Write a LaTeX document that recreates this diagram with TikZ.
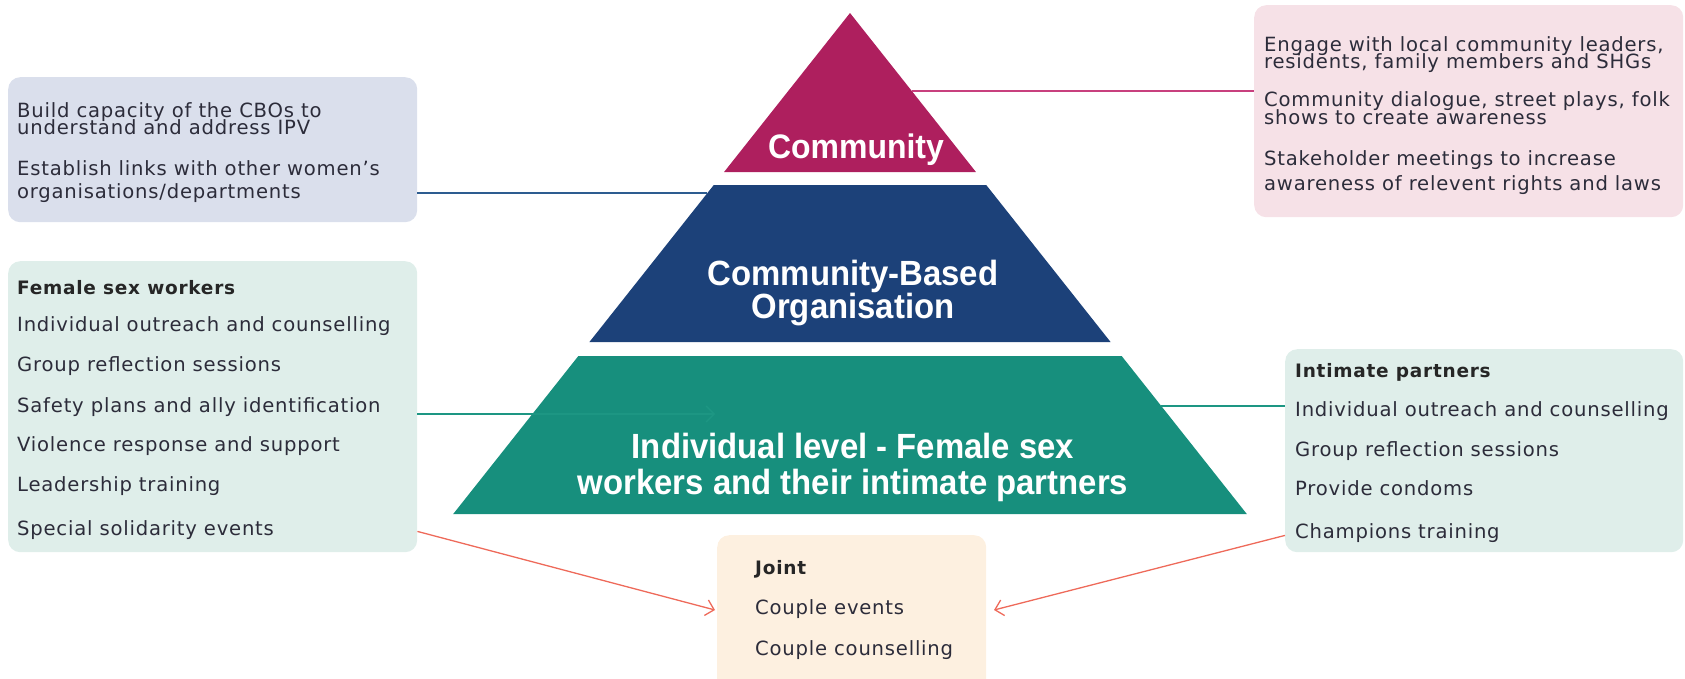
\documentclass[tikz,border=0pt]{standalone}
\usepackage{fontspec}
\usetikzlibrary{arrows.meta}
\newfontfamily\boxfont{DejaVu Sans}[LetterSpace=4]
\newfontfamily\pyrfont{Liberation Sans}[FakeStretch=0.94]

\definecolor{commag}{HTML}{AE1F5E}
\definecolor{cbonavy}{HTML}{1C4179}
\definecolor{indteal}{HTML}{178F7D}
\definecolor{lavbox}{HTML}{DADFEC}
\definecolor{pinkbox}{HTML}{F6E1E7}
\definecolor{mintbox}{HTML}{DFEEEA}
\definecolor{peachbox}{HTML}{FDF0E0}
\definecolor{txtgray}{HTML}{2C2C3A}
\definecolor{lnpink}{HTML}{C8407E}
\definecolor{lnblue}{HTML}{2D5C90}
\definecolor{lnteal}{HTML}{1D9683}
\definecolor{lnred}{HTML}{EE6A5A}

\begin{document}
\begin{tikzpicture}[x=1pt,y=-1pt,
  panel/.style={rounded corners=12pt, anchor=north west, inner sep=0pt, draw=none},
  txt/.style={font=\boxfont\fontsize{19.6}{19.6}\selectfont, text=txtgray, inner sep=0pt, anchor=base west},
  hdr/.style={txt, font=\boxfont\bfseries\fontsize{18.5}{18.5}\selectfont, text=black!85},
  pyr/.style={font=\pyrfont\bfseries\fontsize{35}{31}\selectfont, text=white, inner sep=0pt, align=center},
  link/.style={line width=1.3pt},
  tip/.style={-{Straight Barb[length=8pt,width=16pt,line width=1.3pt]}}
]
\clip (0,0) rectangle (1685,678);

% ---------- pyramid ----------
\coordinate (apex) at (850,13);
\def\sl{0.792}
\fill[commag] (apex) -- ({850-\sl*159},172) -- ({850+\sl*159},172) -- cycle;
\fill[cbonavy] ({850-\sl*172},185) -- ({850+\sl*172},185) -- ({850+\sl*329},342) -- ({850-\sl*329},342) -- cycle;
\fill[indteal] ({850-\sl*343},356) -- ({850+\sl*343},356) -- ({850+\sl*501},514) -- ({850-\sl*501},514) -- cycle;

\node[pyr, anchor=base, font=\pyrfont\bfseries\fontsize{34}{31}\selectfont] (comlabel) at (856,158) {Community};
\node[pyr] (cbolabel) at (853,293) {Community-Based\\Organisation};
\node[pyr, font=\pyrfont\bfseries\fontsize{35}{36}\selectfont] (indlabel) at (853,467) {Individual level - Female sex\\workers and their intimate partners};

% ---------- panels ----------
\node[panel, fill=lavbox, minimum width=409pt, minimum height=145pt] (cbobox) at (8,77) {};
\node[panel, fill=pinkbox, minimum width=429pt, minimum height=212pt] (combox) at (1254,5) {};
\node[panel, fill=mintbox, minimum width=409pt, minimum height=291pt] (fswbox) at (8,261) {};
\node[panel, fill=mintbox, minimum width=398pt, minimum height=203pt] (ipbox) at (1285,349) {};
\node[panel, fill=peachbox, minimum width=269pt, minimum height=160pt] (jbox) at (717,535) {};

% CBO actions
\node[txt] (c1) at (17,117) {Build capacity of the CBOs to};
\node[txt] (c2) at (17,134) {understand and address IPV};
\node[txt] (c3) at (17,175) {Establish links with other women’s};
\node[txt] (c4) at (17,198) {organisations/departments};

% community actions
\node[txt] (m1) at (1264,51) {Engage with local community leaders,};
\node[txt] (m2) at (1264,68) {residents, family members and SHGs};
\node[txt] (m3) at (1264,106) {Community dialogue, street plays, folk};
\node[txt] (m4) at (1264,124) {shows to create awareness};
\node[txt] (m5) at (1264,165) {Stakeholder meetings to increase};
\node[txt] (m6) at (1264,190) {awareness of relevent rights and laws};

% female sex workers
\node[hdr] (f0) at (17,294) {Female sex workers};
\node[txt] (f1) at (17,331) {Individual outreach and counselling};
\node[txt] (f2) at (17,371) {Group reflection sessions};
\node[txt] (f3) at (17,412) {Safety plans and ally identification};
\node[txt] (f4) at (17,451) {Violence response and support};
\node[txt] (f5) at (17,491) {Leadership training};
\node[txt] (f6) at (17,535) {Special solidarity events};

% intimate partners
\node[hdr] (p0) at (1295,377) {Intimate partners};
\node[txt] (p1) at (1295,416) {Individual outreach and counselling};
\node[txt] (p2) at (1295,456) {Group reflection sessions};
\node[txt] (p3) at (1295,495) {Provide condoms};
\node[txt] (p4) at (1295,538) {Champions training};

% joint
\node[hdr] (j0) at (755,574) {Joint};
\node[txt] (j1) at (755,614) {Couple events};
\node[txt] (j2) at (755,655) {Couple counselling};

% ---------- connectors ----------
\coordinate (comedge) at ({850+\sl*78},91);
\coordinate (cboedge) at ({850-\sl*180},193);
\coordinate (indedge) at ({850+\sl*393},406);
\coordinate (fswtip) at (715,414);
\coordinate (jleft) at (715,610);
\coordinate (jright) at (994,610);

\draw[link, lnpink] (comedge) -- (combox.west |- comedge);
\draw[link, lnblue] (cbobox.east |- cboedge) -- (cboedge);
\draw[link, lnteal, tip] (fswbox.east |- fswtip) -- (fswtip);
\draw[link, lnteal] (indedge) -- (ipbox.west |- indedge);
\draw[link, lnred, tip] (fswbox.south east) ++(0,-21) coordinate (fswout) -- (jleft);
\draw[link, lnred, tip] (ipbox.south west) ++(0,-17) coordinate (ipout) -- (jright);
\end{tikzpicture}
\end{document}
